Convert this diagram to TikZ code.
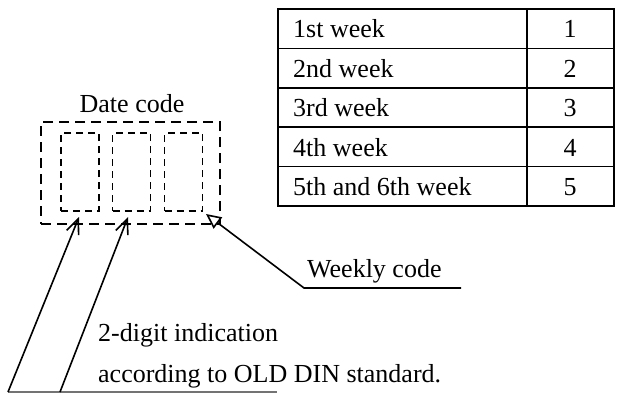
\documentclass[tikz,border=0pt]{standalone}
\usepackage{fontspec}
\setmainfont{Liberation Serif}
\usetikzlibrary{arrows.meta,positioning}
\tikzset{
    outerbox/.style ={
        draw,
        line width=2.4pt,
        dash pattern=on 10pt off 6pt,
        minimum width=179pt,
        minimum height=102pt,
        inner sep=0pt
    },
    digitbox/.style ={
        draw,
        line width=1.6pt,
        dash pattern=on 7pt off 5pt,
        minimum width=38pt,
        minimum height=78pt,
        inner sep=0pt
    },
    txt/.style ={
        font=\fontsize{26}{30}\selectfont,
        inner sep=0pt
    },
    tableline/.style ={
        line width=1.5pt
    },
    leader/.style ={
        line width=1.6pt
    }
}

\begin{document}
\begin{tikzpicture}[x=1pt,y=-1pt]
    \useasboundingbox (0,0) rectangle (617,394);
    % date code
    \node[outerbox] (date) at (130.5,173) {};
    \node[digitbox] (d1) at (80,172) {};
    \node[digitbox] (d2) at (131.5,172) {};
    \node[digitbox] (d3) at (183.5,172) {};
    \node[txt,anchor=base] (datecode) at (132,112) {Date code};
    % table
    \draw[tableline] (278,9) rectangle (614,206);
    \draw[tableline] (527,9) -- (527,206);
    \foreach \r in {1,...,4}
        \draw[tableline] (278,{9+39.4*\r}) -- (614,{9+39.4*\r});
    \foreach \lab [count=\r] in {1st week,2nd week,3rd week,4th week,5th and 6th week}
        \node[txt,anchor=base west] (w\r) at (293,{39.4*\r-1.5}) {\lab};
    \foreach \r in {1,...,5}
        \node[txt,anchor=base] (n\r) at (570,{39.4*\r-1.5}) {\r};
    % weekly code
    \node[txt,anchor=base west] (weekly) at (307,277) {Weekly code};
    \coordinate (wk0) at (304,288);
    \coordinate (wk1) at (461,288);
    \coordinate (tip3) at (206,214);
    \draw[leader,-{Triangle[open,length=15pt,width=14pt]}] (wk1) -- (wk0) -- (tip3);
    % 2-digit
    \node[txt,anchor=base west] (digit) at (98,341) {2-digit indication};
    \node[txt,anchor=base west] (din) at (98,382) {according to OLD DIN standard.};
    \coordinate (tail1) at (8,392);
    \coordinate (tail2) at (60,392);
    \coordinate (base) at (277,392);
    \coordinate (tip1) at (79,217);
    \coordinate (tip2) at (128,217);
    \draw[leader,black!55] (tail1) -- (base);
    \draw[leader,-{Straight Barb[length=15pt,width=13pt]}] (tail1) -- (tip1);
    \draw[leader,-{Straight Barb[length=15pt,width=13pt]}] (tail2) -- (tip2);
\end{tikzpicture}
\end{document}
